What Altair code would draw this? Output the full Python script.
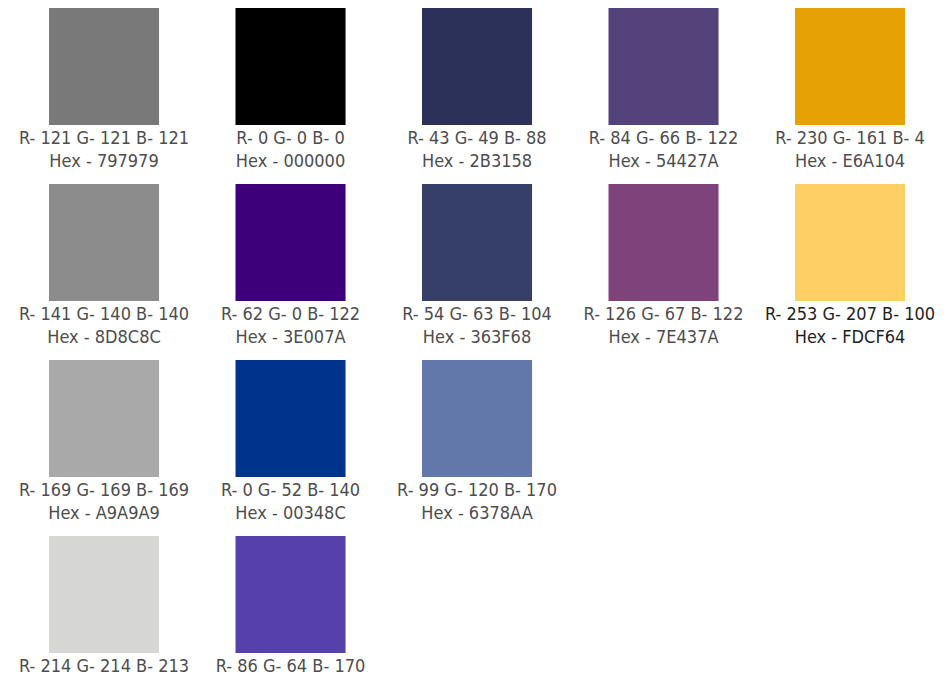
import altair as alt
import pandas as pd

cols = [0, 0, 0, 0, 1, 1, 1, 1, 2, 2, 2, 3, 3, 4, 4]
rows = [0, 1, 2, 3, 0, 1, 2, 3, 0, 1, 2, 0, 1, 0, 1]
hexes = ["797979", "8D8C8C", "A9A9A9", "D6D6D5",
         "000000", "3E007A", "00348C", "5640AA",
         "2B3158", "363F68", "6378AA",
         "54427A", "7E437A",
         "E6A104", "FDCF64"]
reds = [121, 141, 169, 214, 0, 62, 0, 86, 43, 54, 99, 84, 126, 230, 253]
greens = [121, 140, 169, 214, 0, 0, 52, 64, 49, 63, 120, 66, 67, 161, 207]
blues = [121, 140, 169, 213, 0, 122, 140, 170, 88, 104, 170, 122, 122, 4, 100]

df = pd.DataFrame({
    "col": cols, "row": rows, "hex": hexes,
    "r": reds, "g": greens, "b": blues,
})
df["fill"] = "#" + df["hex"]
df["rgb"] = ("R- " + df["r"].astype(str) + " G- " + df["g"].astype(str)
             + " B- " + df["b"].astype(str))
df["hexlabel"] = "Hex - " + df["hex"]

xs = alt.Scale(domain=[0, 1, 2, 3, 4], paddingInner=0.41, paddingOuter=0.209, align=0.526)
ys = alt.Scale(domain=[0, 1, 2, 3], paddingInner=0.335, paddingOuter=0.0765, align=0)

X = alt.X("col:O", scale=xs, axis=None)
Y = alt.Y("row:O", scale=ys, axis=None)

base = alt.Chart(df)

rects = base.mark_rect().encode(
    x=X, y=Y, fill=alt.Fill("fill:N", scale=None)
)

font = "DejaVu Sans Condensed, Liberation Sans Narrow, DejaVu Sans"
tcolor = alt.condition(alt.datum.hex == "FDCF64", alt.value("#1e1e1e"), alt.value("#4d4d4d"))

t1 = base.mark_text(font=font, fontSize=18, dy=72, baseline="middle").encode(
    x=X, y=Y, text="rgb:N", color=tcolor
)
# the bottom row's hex line falls below the visible page in the reference
t2 = base.transform_filter(alt.datum.row < 3).mark_text(
    font=font, fontSize=18, dy=95, baseline="middle").encode(
    x=X, y=Y, text="hexlabel:N", color=tcolor
)

chart = alt.layer(rects, t1, t2).properties(
    width=934, height=672,
    autosize=alt.AutoSizeParams(type="none"),
    padding=0,
).configure_view(stroke=None)

chart.save("out.html", embed_options={"renderer": "svg", "actions": False})
